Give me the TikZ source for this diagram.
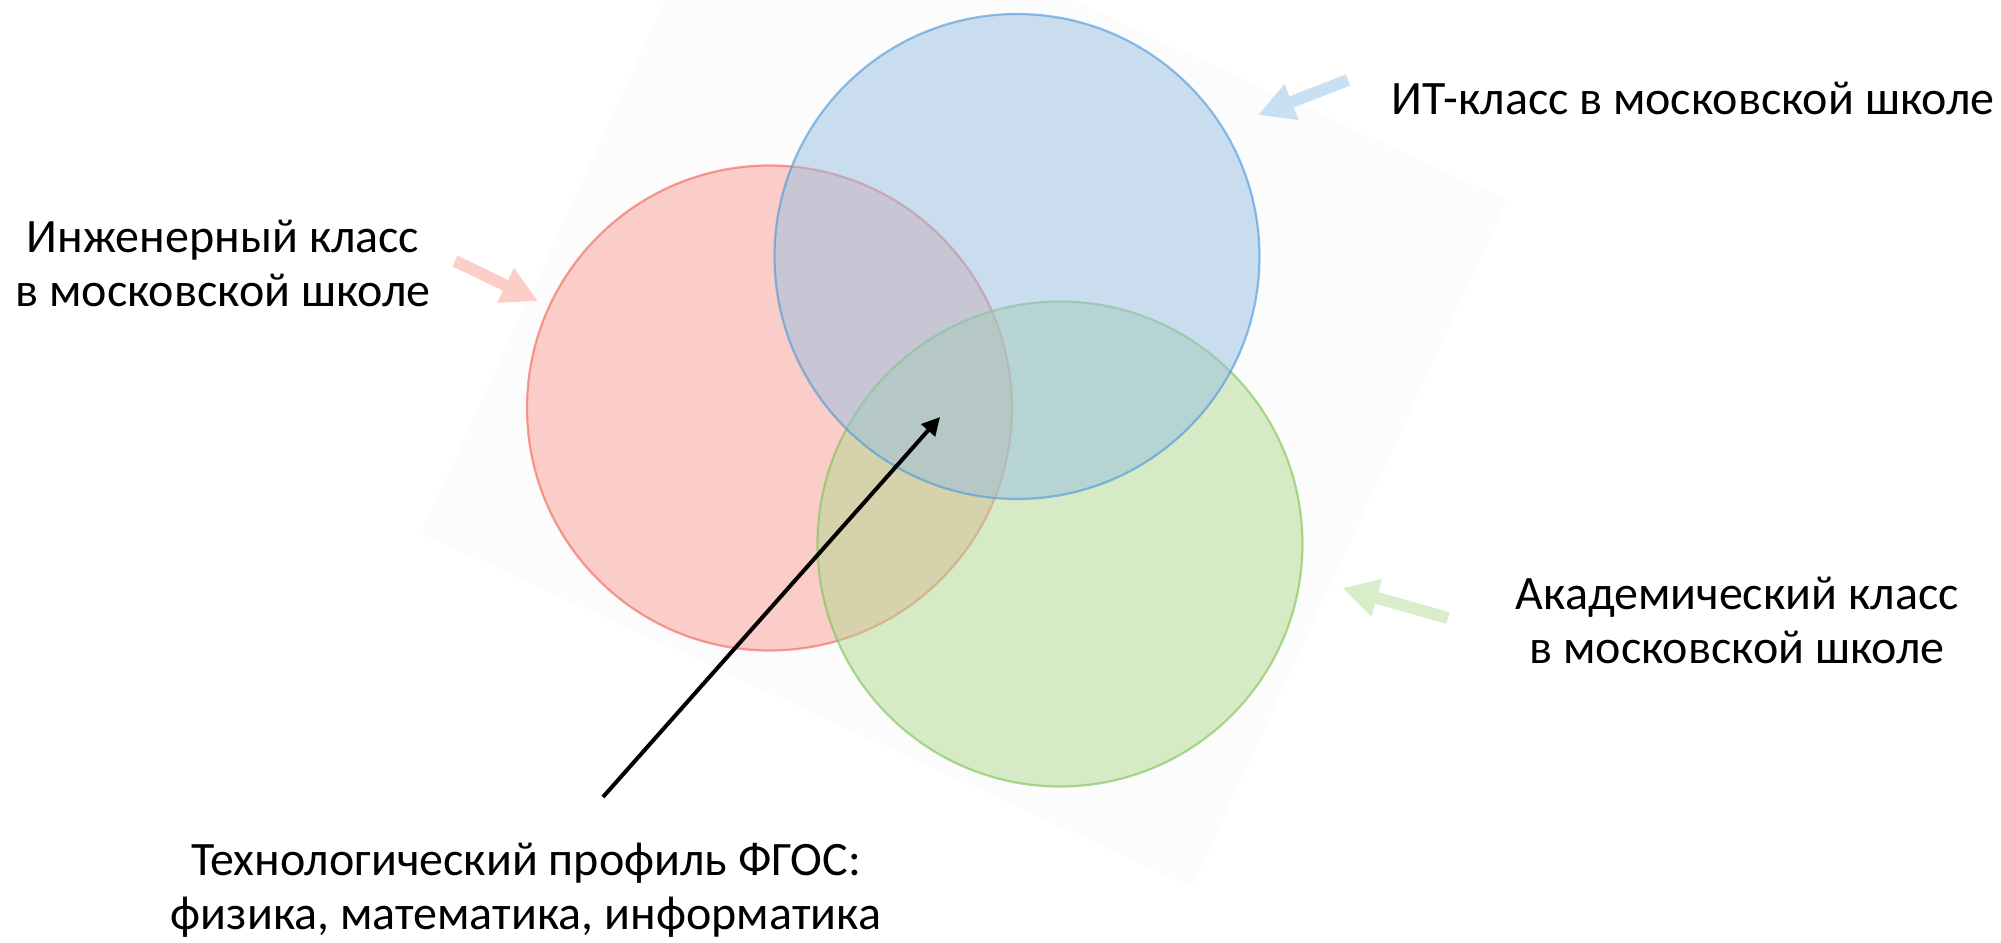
\documentclass[tikz,border=0pt]{standalone}
\usepackage{fontspec}
\setmainfont{Carlito}
\usetikzlibrary{arrows.meta}
\definecolor{redfill}{RGB}{249,159,149}
\definecolor{reddraw}{RGB}{245,95,85}
\definecolor{bluefill}{RGB}{151,191,225}
\definecolor{bluedraw}{RGB}{70,150,220}
\definecolor{greenfill}{RGB}{179,217,145}
\definecolor{greendraw}{RGB}{120,195,80}
\definecolor{redarrow}{RGB}{253,206,200}
\definecolor{bluearrow}{RGB}{201,224,242}
\definecolor{greenarrow}{RGB}{216,237,200}
\definecolor{bgsq}{RGB}{252,252,252}
\tikzset{
  venn/.style={circle, minimum size=485pt*0.5, inner sep=0pt, fill opacity=0.5, draw opacity=0.6, line width=1.1pt},
  lbl/.style={align=center, font=\fontsize{24pt}{27pt}\selectfont, inner sep=0pt},
  blockarrow/.style={line width=6pt, -{Triangle[length=18pt,width=18pt]}},
  pointer/.style={line width=2pt, -{Triangle[length=9pt,width=9pt]}}
}
\begin{document}
\begin{tikzpicture}[x=0.5pt,y=-0.5pt]
\useasboundingbox (0,0) rectangle (2001,942);
\begin{scope}
\clip (0,0) rectangle (2001,942);
\fill[bgsq] (421,533) -- (1192,887) -- (1507,200) -- (736,-154) -- cycle;
\end{scope}
\node[venn, fill=redfill, draw=reddraw] (red) at (769.5,408) {};
\node[venn, fill=greenfill, draw=greendraw] (green) at (1060,544) {};
\node[venn, fill=bluefill, draw=bluedraw] (blue) at (1017,256.5) {};

\node[lbl] (ing) at (223,263) {Инженерный класс\\в московской школе};
\node[lbl, anchor=west] (it) at (1391,98) {ИТ-класс в московской школе};
\node[lbl] (acad) at (1737,620) {Академический класс\\в московской школе};
\node[lbl] (tech) at (526,890) {Технологический профиль ФГОС:\\физика, математика, информатика};

\coordinate (ra) at (455,261);
\coordinate (rt) at (538,301);
\coordinate (ba) at (1348,80);
\coordinate (bt) at (1258,115);
\coordinate (ga) at (1448,618);
\coordinate (gt) at (1342,588);
\coordinate (ps) at (603,797);
\coordinate (pt) at (940,417);

\draw[blockarrow, redarrow] (ra) -- (rt);
\draw[blockarrow, bluearrow] (ba) -- (bt);
\draw[blockarrow, greenarrow] (ga) -- (gt);
\draw[pointer] (ps) -- (pt);
\end{tikzpicture}
\end{document}
